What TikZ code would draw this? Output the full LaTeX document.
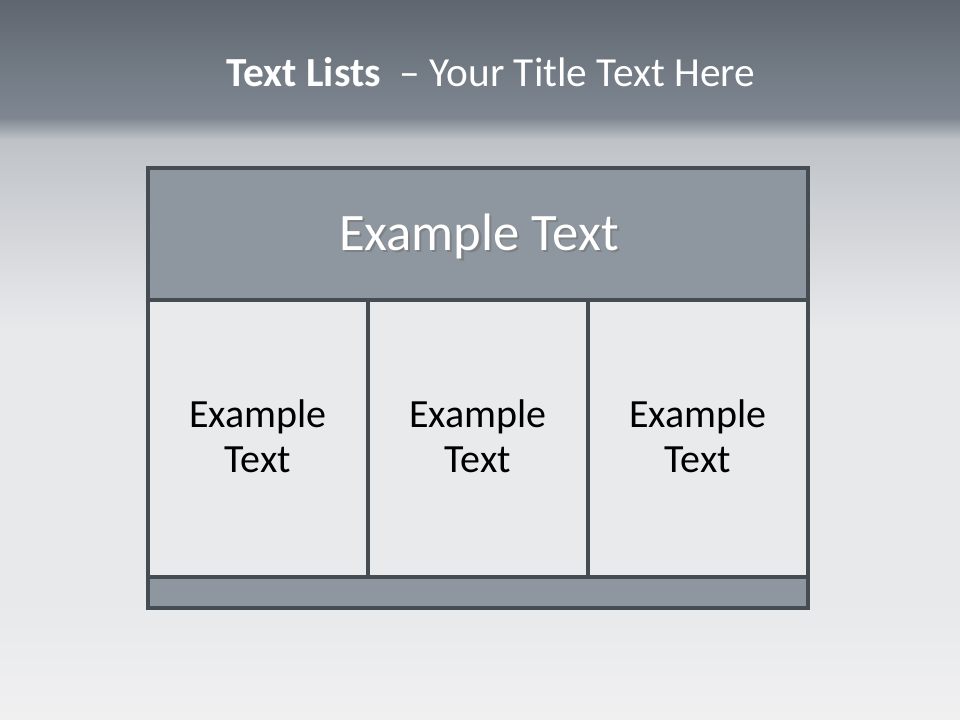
\documentclass[tikz,border=0pt]{standalone}
\usepackage{fontspec}
\setmainfont{Carlito}
\begin{document}
\begin{tikzpicture}[x=0.75pt,y=-0.75pt,
  frame/.style={draw=borderc,line width=2.4pt},
  headtxt/.style={text=white,font=\fontsize{39.5}{48}\selectfont},
  shadowtxt/.style={text=black!55,opacity=0.6,font=\fontsize{39.5}{48}\selectfont},
  celltxt/.style={text=black,align=center,font=\fontsize{30}{36}\selectfont},
  titletxt/.style={text=white,font=\fontsize{31}{37}\selectfont}]
\definecolor{borderc}{HTML}{454C52}
\definecolor{headc}{HTML}{8E979F}
\definecolor{cellc}{HTML}{E9EAEC}
\definecolor{topA}{HTML}{5F6670}
\definecolor{topB}{HTML}{7F8892}
\definecolor{bgA}{HTML}{BFC3C8}
\definecolor{bgB}{HTML}{E8E9EB}
\definecolor{bgC}{HTML}{F0F0F1}
\useasboundingbox (0,0) rectangle (960,720);
% background
\fill[bgB] (0,0) rectangle (960,720);
\shade[top color=topA,bottom color=topB] (0,0) rectangle (960,118);
\shade[top color=topB,bottom color=bgA] (0,118) rectangle (960,140);
\shade[top color=bgA,bottom color=bgB] (0,140) rectangle (960,330);
\shade[top color=bgB,bottom color=bgC] (0,600) rectangle (960,720);
% title
\node[titletxt,anchor=base] (title) at (491,87) {\textbf{Text Lists}\ \ – Your Title Text Here};
% boxes
\fill[headc] (148,168) rectangle (808,300);
\fill[cellc] (148,300) rectangle (808,577);
\fill[headc] (148,577) rectangle (808,608);
\draw[frame] (148,168) rectangle (808,608);
\draw[frame] (148,300) -- (808,300);
\draw[frame] (148,577) -- (808,577);
\draw[frame] (368,300) -- (368,577);
\draw[frame] (588,300) -- (588,577);
% header text
\node[shadowtxt,anchor=base] (hshadow) at (481,253) {Example Text};
\node[headtxt,anchor=base] (head) at (479,251) {Example Text};
% cells
\node[celltxt,anchor=base] (c1a) at (258,427) {Example};
\node[celltxt,anchor=base] (c1b) at (258,472) {Text};
\node[celltxt,anchor=base] (c2a) at (478,427) {Example};
\node[celltxt,anchor=base] (c2b) at (478,472) {Text};
\node[celltxt,anchor=base] (c3a) at (698,427) {Example};
\node[celltxt,anchor=base] (c3b) at (698,472) {Text};
\end{tikzpicture}
\end{document}
